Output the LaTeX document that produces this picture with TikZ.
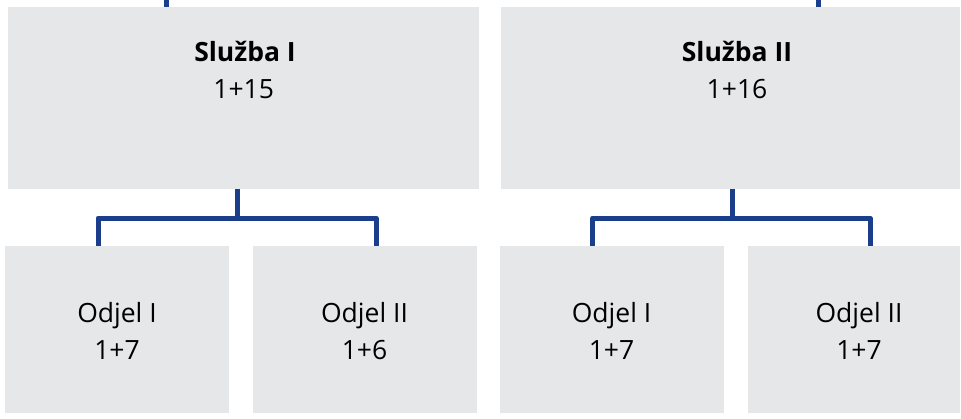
\documentclass[tikz,border=0pt]{standalone}
\usepackage{fontspec}
\setmainfont{Open Sans}
\usetikzlibrary{calc}
\definecolor{boxgray}{HTML}{E6E7E8}
\definecolor{linkblue}{HTML}{1A3E8C}
\begin{document}
\begin{tikzpicture}[x=1pt,y=-1pt,
  box/.style={rectangle, fill=boxgray, draw=none, inner sep=0pt},
  lbl/.style={anchor=base, inner sep=0pt, font=\fontsize{26.5}{37}\selectfont, text=black},
  conn/.style={draw=linkblue, line width=5pt, line join=round}]
\useasboundingbox (0,0) rectangle (961,418);
% boxes
\node[box, minimum width=471pt, minimum height=182pt] (s1) at (243.5,98) {};
\node[box, minimum width=459pt, minimum height=182pt] (s2) at (730.5,98) {};
\node[box, minimum width=224pt, minimum height=167pt] (o1) at (117,329.5) {};
\node[box, minimum width=224pt, minimum height=167pt] (o2) at (365,329.5) {};
\node[box, minimum width=224pt, minimum height=167pt] (o3) at (612,329.5) {};
\node[box, minimum width=212pt, minimum height=167pt] (o4) at (854,329.5) {};
% texts
\node[lbl, font=\fontsize{26.5}{37}\selectfont\bfseries] (s1a) at (245,61.5) {Služba I};
\node[lbl] (s1b) at (243.7,98.3) {1+15};
\node[lbl, font=\fontsize{26.5}{37}\selectfont\bfseries] (s2a) at (737,61.5) {Služba II};
\node[lbl] (s2b) at (737,98.3) {1+16};
\node[lbl] (o1a) at (117,322) {Odjel I};
\node[lbl] (o1b) at (117,359) {1+7};
\node[lbl] (o2a) at (364.5,322) {Odjel II};
\node[lbl] (o2b) at (364.5,359) {1+6};
\node[lbl] (o3a) at (611.5,322) {Odjel I};
\node[lbl] (o3b) at (611.5,359) {1+7};
\node[lbl] (o4a) at (859,322) {Odjel II};
\node[lbl] (o4b) at (859,359) {1+7};
% connectors
\coordinate (t1) at (166.5,0);
\coordinate (t2) at (818,0);
\draw[conn] (t1) -- (t1 |- s1.north);
\draw[conn] (t2) -- (t2 |- s2.north);
\coordinate (j1) at (237,218);
\coordinate (j2) at (732,218);
\coordinate (d1) at (98,0);
\coordinate (d2) at (376,0);
\coordinate (d3) at (592.7,0);
\coordinate (d4) at (870,0);
\draw[conn] (j1 |- s1.south) -- (j1);
\draw[conn] (d1 |- o1.north) -- (d1 |- j1) -- (d2 |- j1) -- (d2 |- o2.north);
\draw[conn] (j2 |- s2.south) -- (j2);
\draw[conn] (d3 |- o3.north) -- (d3 |- j2) -- (d4 |- j2) -- (d4 |- o4.north);
\end{tikzpicture}
\end{document}
